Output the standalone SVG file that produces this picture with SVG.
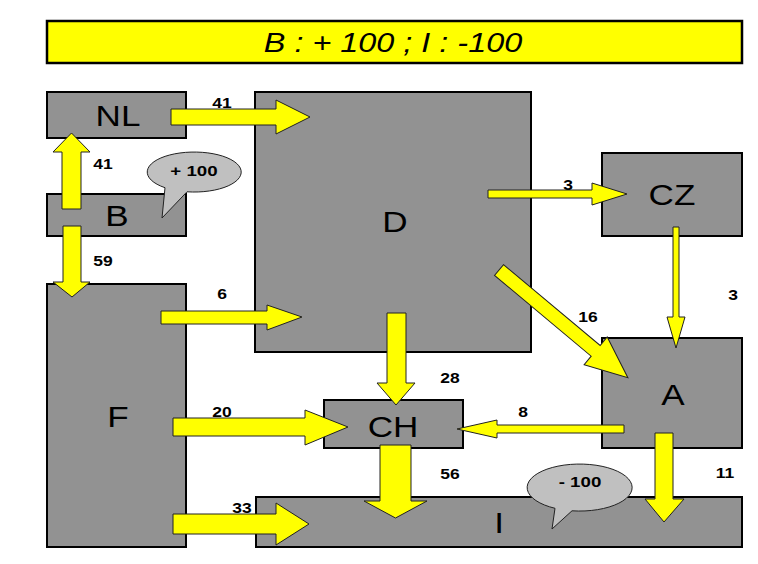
<svg xmlns="http://www.w3.org/2000/svg" width="758" height="564" viewBox="0 0 758 564">
<style>
.box{fill:#929292;stroke:#000;stroke-width:2}
.nt{font-family:"Liberation Sans",Arial,sans-serif;font-size:30px;fill:#000;text-anchor:middle}
.arr{fill:#ffff00;stroke:#222;stroke-width:1;stroke-linejoin:miter}
.lbl{font-family:"Liberation Sans",Arial,sans-serif;font-size:14px;font-weight:bold;fill:#000;text-anchor:middle}
.bub{fill:#c0c0c0;stroke:#222;stroke-width:1}
.bt{font-family:"Liberation Sans",Arial,sans-serif;font-size:15px;font-weight:bold;fill:#000;text-anchor:middle}
</style>
<rect width="758" height="564" fill="#fff"/>
<g id="title">
<rect x="47" y="21" width="695" height="42" fill="#ffff00" stroke="#000" stroke-width="2.5"/>
<g transform="translate(393 52) scale(1.2 1)"><text x="0" y="0" font-family="Liberation Sans, Arial, sans-serif" font-size="27" font-style="italic" text-anchor="middle">B : + 100 ; I : -100</text></g>
</g>
<g id="node-NL"><rect class="box" x="47" y="92" width="139" height="46"/><g transform="translate(118 126) scale(1.17 1)"><text class="nt">NL</text></g></g>
<g id="node-B"><rect class="box" x="47" y="194" width="139" height="42"/><g transform="translate(117 226) scale(1.17 1)"><text class="nt">B</text></g></g>
<g id="node-F"><rect class="box" x="47" y="284" width="139" height="263"/><g transform="translate(118 427) scale(1.17 1)"><text class="nt">F</text></g></g>
<g id="node-D"><rect class="box" x="255" y="92" width="276" height="260"/><g transform="translate(395 232) scale(1.17 1)"><text class="nt">D</text></g></g>
<g id="node-CZ"><rect class="box" x="602" y="153" width="140" height="83"/><g transform="translate(672 205) scale(1.17 1)"><text class="nt">CZ</text></g></g>
<g id="node-A"><rect class="box" x="602" y="338" width="140" height="110"/><g transform="translate(673 405) scale(1.17 1)"><text class="nt">A</text></g></g>
<g id="node-CH"><rect class="box" x="324" y="400" width="139" height="48"/><g transform="translate(393 437) scale(1.17 1)"><text class="nt">CH</text></g></g>
<g id="node-I"><rect class="box" x="256" y="497" width="486" height="50"/><g transform="translate(499 533) scale(1.17 1)"><text class="nt">I</text></g></g>
<g id="connectors">
<polygon class="arr" points="171,109 276,109 276,100 310,117 276,134 276,125 171,125"/>
<polygon class="arr" points="62,209 62,152 53,152 71.5,133 90,152 81,152 81,209"/>
<polygon class="arr" points="63,226 81,226 81,282 90,282 72,297 53,282 63,282"/>
<polygon class="arr" points="488,190 592,190 592,183 627,194 592,205 592,198 488,198"/>
<polygon class="arr" points="673,227 679,227 679,317 685,317 676,348 667,317 673,317"/>
<polygon class="arr" transform="translate(499,270) rotate(39.9)" points="0,-7 126,-7 126,-18 168,0 126,18 126,7 0,7"/>
<polygon class="arr" points="161,311 267,311 267,305 302,317 267,330 267,324 161,324"/>
<polygon class="arr" points="387,313 406,313 406,383 415,383 396,405 377,383 387,383"/>
<polygon class="arr" points="173,418 305,418 305,410 348,427 305,445 305,436 173,436"/>
<polygon class="arr" points="624,425 497,425 497,420 457,429 497,438 497,433 624,433"/>
<polygon class="arr" points="173,514 276,514 276,503 309,524 276,545 276,534 173,534"/>
<polygon class="arr" points="380,445 411,445 411,501 427,501 395.5,518 364,501 380,501"/>
<polygon class="arr" points="655,433 673,433 673,499 684,499 664,522 645,499 655,499"/>
<g transform="translate(222 108) scale(1.25 1)"><text class="lbl">41</text></g>
<g transform="translate(103 169) scale(1.25 1)"><text class="lbl">41</text></g>
<g transform="translate(103 266) scale(1.25 1)"><text class="lbl">59</text></g>
<g transform="translate(568 190) scale(1.25 1)"><text class="lbl">3</text></g>
<g transform="translate(733 300) scale(1.25 1)"><text class="lbl">3</text></g>
<g transform="translate(588 322) scale(1.25 1)"><text class="lbl">16</text></g>
<g transform="translate(222 299) scale(1.25 1)"><text class="lbl">6</text></g>
<g transform="translate(450 383) scale(1.25 1)"><text class="lbl">28</text></g>
<g transform="translate(222 417) scale(1.25 1)"><text class="lbl">20</text></g>
<g transform="translate(523 417) scale(1.25 1)"><text class="lbl">8</text></g>
<g transform="translate(242 513) scale(1.25 1)"><text class="lbl">33</text></g>
<g transform="translate(450 479) scale(1.25 1)"><text class="lbl">56</text></g>
<g transform="translate(725 478) scale(1.25 1)"><text class="lbl">11</text></g>
</g>
<g id="callout-plus">
<path class="bub" d="M165,187.7 L162,218 L187,191.8 A47 20 0 1 0 165,187.7 Z"/>
<g transform="translate(194 176) scale(1.25 1)"><text class="bt">+ 100</text></g>
</g>
<g id="callout-minus">
<path class="bub" d="M555,508.3 L552,529 L572,510.8 A52.5 23.5 0 1 0 555,508.3 Z"/>
<g transform="translate(580 487) scale(1.25 1)"><text class="bt">- 100</text></g>
</g>
</svg>
